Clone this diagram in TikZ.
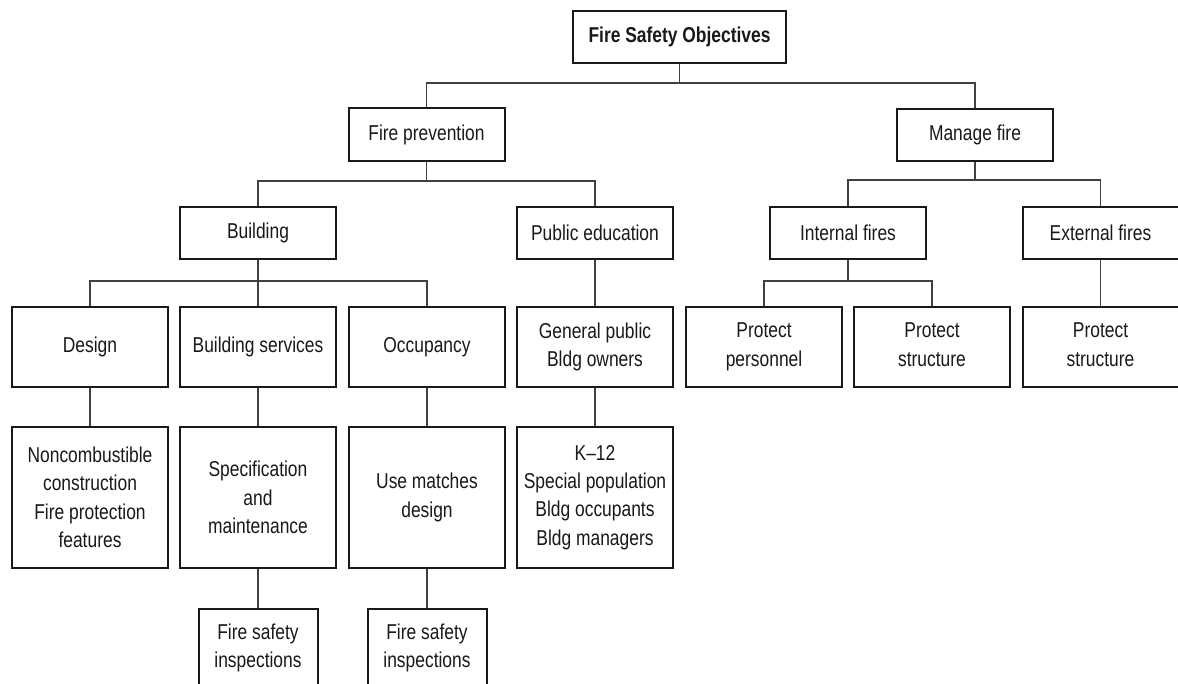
\documentclass[tikz,border=0pt]{standalone}
\usepackage{fontspec}
\setmainfont{Liberation Sans}[FakeStretch=0.81]
\begin{document}
\begin{tikzpicture}[x=1pt,y=-1pt,
  box/.style={draw=black!90, line width=2pt, rectangle, inner sep=0pt, align=center,
    font=\fontsize{21.5}{28.4}\selectfont, text=black!90},
  w156/.style={minimum width=156pt},
  link/.style={draw=black!75, line width=1.8pt}]
\useasboundingbox (0,0) rectangle (1178,684);
\fill[white] (0,0) rectangle (1178,684);
\clip (0,0) rectangle (1178,684);
% level 0
\node[box, minimum width=213pt, minimum height=52pt, font=\fontsize{21.5}{28.4}\selectfont\bfseries] (fso) at (679.5,37) {Fire Safety Objectives};
% level 1
\node[box, w156, minimum height=53pt] (fp) at (426.5,134.5) {Fire prevention};
\node[box, w156, minimum height=52pt] (mf) at (975,135) {Manage fire};
% level 2
\node[box, w156, minimum height=52pt] (bld) at (258,233) {Building};
\node[box, w156, minimum height=52pt] (pe) at (595,233) {Public education};
\node[box, w156, minimum height=52pt] (inf) at (848,233) {Internal fires};
\node[box, w156, minimum height=52pt] (ext) at (1100.5,233) {External fires};
% level 3
\node[box, w156, minimum height=80pt] (des) at (90,347) {Design};
\node[box, w156, minimum height=80pt] (bs) at (258,347) {Building services};
\node[box, w156, minimum height=80pt] (occ) at (427,347) {Occupancy};
\node[box, w156, minimum height=80pt] (gp) at (595,347) {General public\\Bldg owners};
\node[box, w156, minimum height=80pt] (pp) at (764,347) {Protect\\personnel};
\node[box, w156, minimum height=80pt] (ps) at (932,347) {Protect\\structure\vphantom{p}};
\node[box, w156, minimum height=80pt] (ps2) at (1100.5,347) {Protect\\structure\vphantom{p}};
% level 4
\node[box, w156, minimum height=141pt] (nc) at (90,497.5) {Noncombustible\\construction\\Fire protection\\features};
\node[box, w156, minimum height=141pt] (spec) at (258,497.5) {Specification\\and\\maintenance};
\node[box, w156, minimum height=141pt] (use) at (427,497.5) {Use matches\\design};
\node[box, w156, minimum height=141pt] (k12) at (595,497.5) {K--12\\Special population\\Bldg occupants\\Bldg managers};
% level 5
\node[box, minimum width=119pt, minimum height=78pt] (fsi1) at (258,648) {Fire safety\\inspections};
\node[box, minimum width=119pt, minimum height=78pt] (fsi2) at (427,648) {Fire safety\\inspections};
% connectors
\draw[link] (fso.south) -- ++(0,19) -| (fp.north);
\draw[link] (fso.south) -- ++(0,19) -| (mf.north);
\draw[link] (fp.south) -- ++(0,19) -| (bld.north);
\draw[link] (fp.south) -- ++(0,19) -| (pe.north);
\draw[link] (mf.south) -- ++(0,18) -| (inf.north);
\draw[link] (mf.south) -- ++(0,18) -| (ext.north);
\draw[link] (bld.south) -- ++(0,21) -| (des.north);
\draw[link] (bld.south) -- (bs.north);
\draw[link] (bld.south) -- ++(0,21) -| (occ.north);
\draw[link] (pe.south) -- (gp.north);
\draw[link] (inf.south) -- ++(0,21) -| (pp.north);
\draw[link] (inf.south) -- ++(0,21) -| (ps.north);
\draw[link] (ext.south) -- (ps2.north);
\draw[link] (des.south) -- (nc.north);
\draw[link] (bs.south) -- (spec.north);
\draw[link] (occ.south) -- (use.north);
\draw[link] (gp.south) -- (k12.north);
\draw[link] (spec.south) -- (fsi1.north);
\draw[link] (use.south) -- (fsi2.north);
\end{tikzpicture}
\end{document}
